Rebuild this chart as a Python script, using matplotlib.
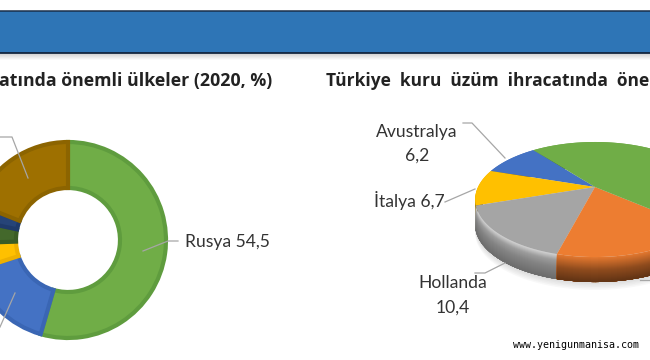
import numpy as np
import matplotlib
matplotlib.use("Agg")
import matplotlib.pyplot as plt
from matplotlib.colors import to_rgb

# sol grafik: halka, Rusya'dan saat yonunde (digerleri resimden tahmin)
halka_deger = [54.5, 15.5, 4.5, 3.8, 2.7, 19.0]
halka_renk = ['#70ad47', '#4472c4', '#ffc000', '#43682b', '#264478', '#9e7000']
halka_kenar = ['#5f9c3e', '#3a66b4', '#eeb000', '#3a5c25', '#1f3a6a', '#8c6400']

# sag grafik: 3B pasta, yesil ve turuncu kirpilmis, tahmini
pasta_isim = ['Avustralya', 'İtalya', 'Hollanda', 'turuncu', 'yesil']
pasta_deger = [6.2, 6.7, 10.4, 11.8, 30.9]
pasta_renk = ['#4472c4', '#ffc000', '#a5a5a5', '#ed7d31', '#70ad47']

# resimde gorunen kadar
baslik = 'atında önemli ülkeler (2020, %)'
baslik2 = 'Türkiye  kuru  üzüm  ihracatında  öne'

H = 360
plt.rcParams['font.family'] = ['Lato', 'DejaVu Sans']

fig = plt.figure(figsize=(6.5, 3.6), dpi=100)
ax = fig.add_axes([0, 0, 1, 1])

# halka
wedges, _ = ax.pie(halka_deger, colors=halka_renk, startangle=90, counterclock=False,
                   center=(68, H - 240), radius=98,
                   wedgeprops=dict(width=46, linewidth=3))
for w, k in zip(wedges, halka_kenar):
    w.set_edgecolor(k)

ax.set_xlim(0, 650)
ax.set_ylim(0, H)
ax.set_aspect('auto')
ax.axis('off')

# ust bant
for i in range(6):
    ax.axhspan(H - 54 - i - 1, H - 54 - i, color='#808080', alpha=0.32 - 0.055 * i, lw=0)
ax.axhspan(H - 53, H - 11, color='#2e75b6', lw=0)
ax.plot([0, 650], [H - 11, H - 11], color='#1a2f4a', lw=1.1)
ax.plot([0, 650], [H - 53, H - 53], color='#10233c', lw=1.3)

# 3B pasta, perspektifli izdusum
ox, oy = 595, H - 187
sx, sy, k = 117, 54.8, 0.2175
derinlik = 25


def izdusum(aci):
    X, Y = np.cos(aci), np.sin(aci)
    w = 1 + k * Y
    return ox + sx * X / w, oy + sy * Y / w


aci = np.radians(128) + np.concatenate([[0], np.cumsum(pasta_deger)]) / sum(pasta_deger) * 2 * np.pi
tum = np.linspace(0, 2 * np.pi, 300)
gx, gy = izdusum(tum)
for i in range(5):
    ax.fill(gx, gy - derinlik - 2 - i * 1.5, color='#808080', alpha=0.05, lw=0)

adim = np.linspace(0, 1, 26)
for i in range(len(pasta_deger)):
    t = np.linspace(aci[i], aci[i + 1], 100)
    x, y = izdusum(t)
    taban = np.array(to_rgb(pasta_renk[i]))
    if pasta_isim[i] == 'Hollanda':
        carpan = np.interp(adim, [0, 0.22, 0.5, 1], [1.25, 0.95, 0.8, 0.65])
    else:
        carpan = np.interp(adim, [0, 0.22, 0.5, 1], [0.95, 0.8, 0.6, 0.4])
    # her katman alta kadar iner, sonraki ustune biner
    for j in range(len(adim) - 1):
        y1 = y - adim[j] * derinlik
        y2 = y - derinlik
        ax.fill(np.r_[x, x[::-1]], np.r_[y1, y2[::-1]],
                color=np.clip(taban * carpan[j], 0, 1), lw=0)
for i in range(len(pasta_deger)):
    t = np.linspace(aci[i], aci[i + 1], 100)
    x, y = izdusum(t)
    ax.fill(np.r_[ox, x], np.r_[oy, y], color=pasta_renk[i], lw=0)

# kilavuz cizgileri
kilavuz = [
    ([143, 168, 178], [251, 241, 241]),
    ([28, 12, 5, 0], [178, 137, 137, 137]),
    ([15, 0], [293, 327]),
    ([463, 472, 505], [123, 123, 158]),
    ([445, 475], [202, 189]),
    ([475, 485, 505], [273, 273, 263]),
    ([640, 650], [280, 280]),
]
for lx, ly in kilavuz:
    ax.plot(lx, H - np.array(ly), color='#a6a6a6', lw=0.9)

# basliklar
ax.text(272, H - 81, baslik, ha='right', va='center', fontsize=12.8, family=['Open Sans', 'DejaVu Sans'],
        fontweight='bold', color='#222222')
ax.text(326, H - 81, baslik2, ha='left', va='center', fontsize=12.5, family=['Open Sans', 'DejaVu Sans'],
        fontweight='bold', color='#222222')

# etiketler
etiket = dict(fontsize=12.6, color='#333333', va='center')
ax.text(185, H - 242, 'Rusya 54,5', ha='left', **etiket)
ax.text(417, H - 132, pasta_isim[0], ha='center', **etiket)
ax.text(417, H - 156, '6,2', ha='center', **etiket)
ax.text(374, H - 201, pasta_isim[1] + ' 6,7', ha='left', **etiket)
ax.text(453, H - 283, pasta_isim[2], ha='center', **etiket)
ax.text(453, H - 308, '10,4', ha='center', **etiket)

# filigran
ax.text(513, H - 345, 'www.yenigunmanisa.com', ha='left', va='center',
        family='DejaVu Sans Mono', fontsize=7.2, color='black',
        bbox=dict(facecolor='white', edgecolor='none', pad=1.5))

fig.savefig('out.png', dpi=100, facecolor='white')
